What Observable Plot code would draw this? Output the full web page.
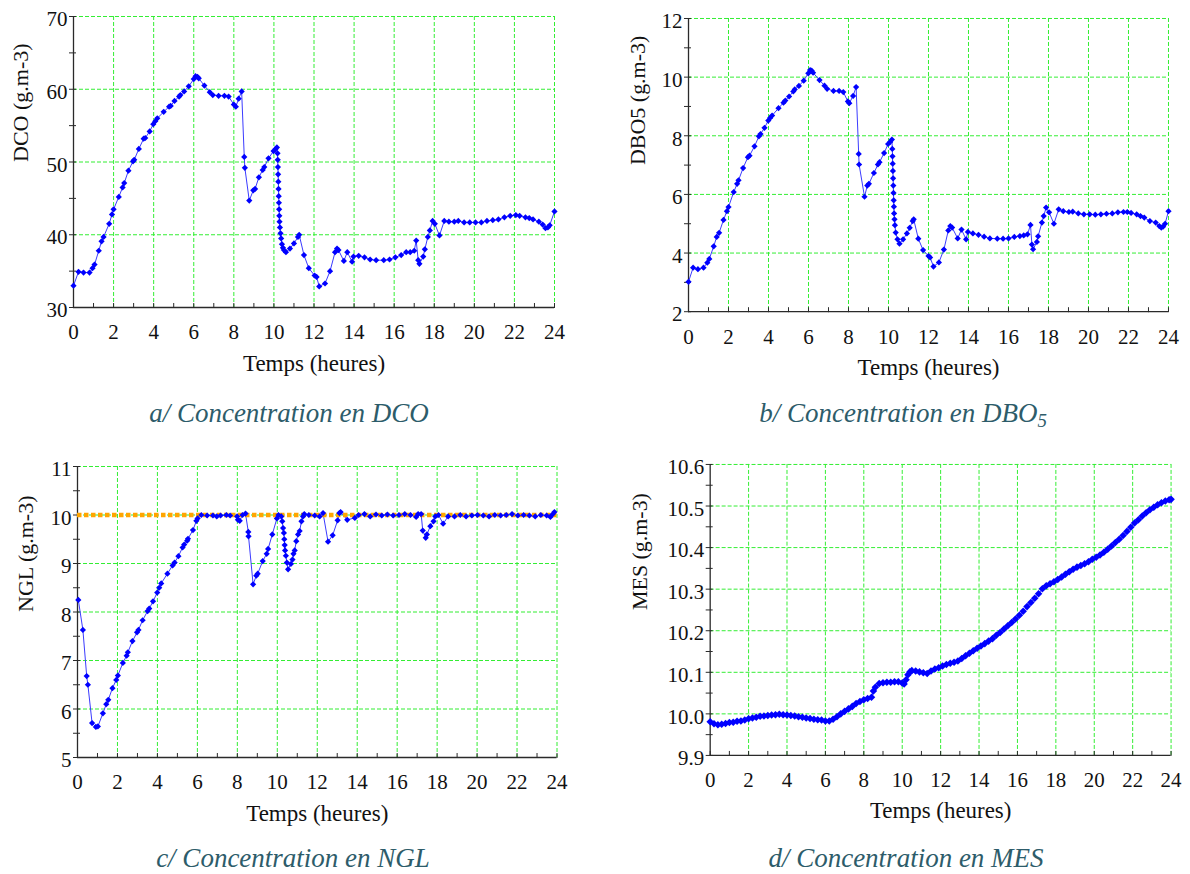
<!DOCTYPE html>
<html><head><meta charset="utf-8">
<script src="https://cdn.jsdelivr.net/npm/d3@7"></script>
<script src="https://cdn.jsdelivr.net/npm/@observablehq/plot@0.6"></script>
<style>
body{margin:0;background:#fff;width:1190px;height:874px;position:relative;overflow:hidden;font-family:'Liberation Serif','Times New Roman',serif}
.panel{position:absolute}
.panel svg, .panel svg text{font-family:'Liberation Serif','Times New Roman',serif !important}
.cap{position:absolute;font-style:italic;font-size:27px;color:#2d5c6a;white-space:nowrap;transform:translate(-50%,-50%);font-family:'Liberation Serif','Times New Roman',serif;line-height:1.1}
.cap sub{font-size:0.7em;vertical-align:-0.25em;line-height:0}
</style></head><body>
<script>
// ---- shared tick labels ----
const hourMajor = [0,2,4,6,8,10,12,14,16,18,20,22,24];
const hourMinor = d3.range(0, 25, 1);
const xLabel = "Temps (heures)";

// ---- a/ DCO ----
const dcoHours = [0,0.25,0.5,0.8,0.95,1.05,1.26,1.4,1.5,1.78,1.92,2,2.26,2.45,2.53,2.74,2.97,3.03,3.26,3.5,3.58,3.8,3.98,4.08,4.18,4.5,4.77,4.85,5.04,5.27,5.33,5.52,5.75,6,6.09,6.19,6.25,6.53,6.8,6.95,7.24,7.53,7.74,8,8.1,8.24,8.39,8.52,8.55,8.77,8.97,9.06,9.25,9.44,9.52,9.73,9.98,10.08,10.15,10.18,10.19,10.2,10.21,10.22,10.23,10.24,10.25,10.26,10.27,10.28,10.3,10.33,10.36,10.4,10.45,10.5,10.6,10.8,11,11.2,11.26,11.5,11.74,12.03,12.13,12.26,12.55,12.8,13.05,13.15,13.22,13.49,13.66,13.9,13.97,14.23,14.52,14.8,15.1,15.48,15.77,16.06,16.35,16.6,16.8,17,17.1,17.2,17.26,17.45,17.53,17.68,17.78,17.92,18.03,18.26,18.5,18.73,19,19.2,19.49,19.77,20.06,20.35,20.63,20.92,21.2,21.5,21.79,22.07,22.26,22.55,22.74,22.93,23.22,23.41,23.55,23.67,23.76,24];
const dcoValues = [33,34.9,34.8,34.8,35.4,35.9,37.8,39.1,39.7,41.5,42.8,43.5,45.2,46.5,47.1,48.8,50.1,50.3,51.8,53.2,53.3,54.2,55.2,55.6,56,56.9,57.6,57.7,58.4,59,59.2,59.7,60.4,61.4,61.8,61.7,61.5,60.5,59.6,59.2,59.1,59.1,59,57.9,57.6,58.7,59.7,50.7,49.2,44.7,46.1,46.3,47.9,48.9,49.3,50.5,51.5,51.8,52,51.2,50.3,49.3,48.3,47.3,46.3,45.3,44.4,43.5,42.6,41.8,41,40.2,39.5,38.7,38.2,37.9,37.6,38.1,38.8,39.7,40,37.2,35.4,34.4,34.2,32.9,33.3,35,37.6,38.1,37.9,36.4,37.6,36.3,37,37.1,36.9,36.6,36.5,36.5,36.6,36.9,37.2,37.6,37.6,37.8,39.2,36.5,36,37,38,39.7,40.6,41.9,41.5,39.9,41.9,41.8,41.8,41.9,41.7,41.7,41.7,41.7,41.9,42,42.1,42.4,42.6,42.7,42.6,42.4,42.3,42.1,41.8,41.4,40.9,41,41.3,43.2];
const dcoMajor = [30,40,50,60,70];
const dcoMinor = [30,35,40,45,50,55,60,65,70];

// ---- b/ DBO5 ----
const dboHours = [0,0.23,0.47,0.75,0.94,1.04,1.26,1.41,1.53,1.75,1.92,2,2.26,2.43,2.5,2.73,2.97,3.05,3.3,3.52,3.6,3.8,3.99,4.08,4.18,4.5,4.75,4.84,5.03,5.24,5.31,5.52,5.76,5.99,6.08,6.16,6.23,6.55,6.8,6.93,7.25,7.53,7.74,7.97,8.04,8.23,8.38,8.51,8.53,8.8,8.94,9.02,9.27,9.47,9.55,9.78,9.98,10.08,10.17,10.19,10.2,10.21,10.22,10.23,10.24,10.25,10.26,10.27,10.28,10.3,10.32,10.36,10.45,10.55,10.73,10.92,11.06,11.21,11.26,11.49,11.73,12,12.08,12.25,12.52,12.77,12.99,13.09,13.18,13.46,13.65,13.88,13.97,14.22,14.5,14.78,15.07,15.44,15.73,16,16.29,16.57,16.76,16.95,17.1,17.17,17.23,17.42,17.48,17.67,17.76,17.88,18.03,18.27,18.51,18.74,19.02,19.21,19.49,19.77,20.06,20.34,20.62,20.9,21.19,21.47,21.75,21.94,22.13,22.41,22.6,22.79,23.07,23.36,23.54,23.64,23.73,23.83,24];
const dboValues = [3.02,3.5,3.45,3.5,3.67,3.8,4.23,4.55,4.69,5.13,5.43,5.57,6.08,6.36,6.48,6.9,7.27,7.32,7.64,7.98,8.06,8.27,8.52,8.61,8.69,8.94,9.13,9.2,9.34,9.51,9.58,9.7,9.88,10.13,10.24,10.22,10.15,9.9,9.71,9.6,9.53,9.53,9.49,9.17,9.11,9.36,9.66,7.38,7.02,5.92,6.3,6.36,6.73,7.02,7.1,7.41,7.72,7.79,7.87,7.55,7.3,7.05,6.8,6.55,6.3,6.05,5.8,5.58,5.35,5.15,4.95,4.7,4.47,4.32,4.47,4.67,4.86,5.09,5.15,4.49,4.1,3.9,3.85,3.54,3.68,4.12,4.77,4.92,4.87,4.5,4.8,4.47,4.72,4.67,4.62,4.56,4.5,4.49,4.49,4.5,4.55,4.58,4.6,4.64,4.96,4.29,4.13,4.38,4.57,5.04,5.26,5.55,5.39,5,5.49,5.43,5.4,5.41,5.35,5.32,5.32,5.31,5.32,5.34,5.35,5.39,5.4,5.4,5.37,5.32,5.26,5.21,5.09,5.04,4.92,4.87,4.9,5,5.43];
const dboMajor = [2,4,6,8,10,12];
const dboMinor = [2,3,4,5,6,7,8,9,10,11,12];

// ---- c/ NGL ----
const nglHours = [0.04,0.27,0.46,0.52,0.73,0.92,1.02,1.27,1.44,1.54,1.75,1.94,2.02,2.27,2.46,2.52,2.75,2.98,3.05,3.26,3.51,3.59,3.78,3.99,4.09,4.19,4.5,4.76,4.86,5.05,5.26,5.34,5.49,5.53,5.78,5.95,6.01,6.2,6.49,6.78,6.97,7.16,7.45,7.64,7.99,8.03,8.12,8.26,8.41,8.55,8.56,8.79,8.95,9.02,9.27,9.47,9.54,9.75,9.98,10.06,10.2,10.25,10.29,10.33,10.35,10.37,10.39,10.43,10.48,10.54,10.68,10.76,10.81,10.87,10.95,11.04,11.12,11.21,11.29,11.35,11.58,11.87,12.12,12.29,12.54,12.77,13.02,13.11,13.17,13.5,13.88,14.07,14.36,14.65,14.94,15.23,15.51,15.8,16.09,16.38,16.67,16.95,17.05,17.2,17.28,17.43,17.49,17.66,17.82,17.91,18.07,18.3,18.55,18.87,19.16,19.45,19.74,20.02,20.31,20.6,20.89,21.18,21.46,21.75,22.04,22.33,22.62,22.91,23.19,23.48,23.67,23.77,23.87];
const nglValues = [8.25,7.63,6.68,6.5,5.71,5.63,5.64,5.91,6.1,6.19,6.43,6.6,6.69,6.95,7.1,7.17,7.4,7.58,7.63,7.83,8.02,8.07,8.22,8.4,8.5,8.59,8.79,8.96,9.02,9.15,9.33,9.39,9.47,9.51,9.69,9.88,9.93,10,9.99,9.99,9.97,9.99,10,9.99,9.97,9.9,9.88,10,10.03,9.65,9.56,8.57,8.75,8.79,9.05,9.2,9.3,9.6,9.93,10,9.97,9.87,9.73,9.63,9.5,9.38,9.27,9.16,9.02,8.88,8.99,9.08,9.2,9.27,9.46,9.6,9.67,9.87,9.97,10.02,10,9.99,9.97,10.04,9.45,9.58,9.89,10.04,10.06,9.9,9.94,10,10.02,9.97,10.01,9.99,10.01,9.99,10,10.02,10,9.96,10.02,10.02,9.68,9.53,9.6,9.77,9.87,9.97,10,9.82,9.97,9.97,10,9.97,9.99,10,9.99,9.97,10,9.99,10,10.02,9.99,10,9.99,9.97,10,9.99,9.96,10.01,10.06];
const nglMajor = [5,6,7,8,9,10,11];
const nglMinor = [5,5.5,6,6.5,7,7.5,8,8.5,9,9.5,10,10.5,11];
const nglLimit = [10];

// ---- d/ MES ----
const mesHours = [0,0.2,0.4,0.6,0.8,1,1.2,1.4,1.6,1.8,2,2.2,2.4,2.6,2.8,3,3.2,3.4,3.6,3.8,4,4.2,4.4,4.6,4.8,5,5.2,5.4,5.6,5.8,6,6.2,6.4,6.6,6.8,7,7.2,7.4,7.6,7.8,8,8.2,8.4,8.5,8.6,8.8,9,9.2,9.4,9.6,9.8,10,10.1,10.2,10.3,10.4,10.5,10.7,10.9,11.1,11.3,11.5,11.7,11.9,12.1,12.3,12.5,12.7,12.9,13.1,13.3,13.5,13.7,13.9,14.1,14.3,14.5,14.7,14.9,15.1,15.3,15.5,15.7,15.9,16.1,16.3,16.5,16.7,16.9,17.1,17.3,17.5,17.7,17.9,18.1,18.3,18.5,18.7,18.9,19.1,19.3,19.5,19.7,19.9,20.1,20.3,20.5,20.7,20.9,21.1,21.3,21.5,21.7,21.9,22.1,22.3,22.5,22.7,22.9,23.1,23.3,23.5,23.7,23.9,24];
const mesValues = [9.981,9.976,9.974,9.975,9.977,9.979,9.98,9.982,9.983,9.985,9.988,9.99,9.992,9.994,9.995,9.996,9.997,9.998,9.999,9.998,9.997,9.996,9.995,9.993,9.992,9.99,9.989,9.987,9.986,9.985,9.983,9.983,9.987,9.993,10,10.006,10.012,10.018,10.025,10.03,10.034,10.037,10.04,10.055,10.064,10.073,10.075,10.076,10.076,10.077,10.077,10.074,10.072,10.082,10.094,10.101,10.104,10.103,10.101,10.099,10.097,10.103,10.108,10.111,10.115,10.119,10.122,10.124,10.127,10.133,10.14,10.146,10.152,10.158,10.163,10.169,10.175,10.181,10.189,10.196,10.204,10.212,10.22,10.228,10.237,10.247,10.258,10.268,10.278,10.289,10.301,10.308,10.313,10.318,10.323,10.329,10.336,10.342,10.348,10.353,10.357,10.361,10.366,10.372,10.377,10.382,10.389,10.396,10.404,10.412,10.42,10.429,10.439,10.449,10.459,10.467,10.476,10.484,10.491,10.497,10.503,10.508,10.512,10.515,10.516];
const mesMajor = [9.9,10,10.1,10.2,10.3,10.4,10.5,10.6];
const mesMinor = [9.9,9.95,10,10.05,10.1,10.15,10.2,10.25,10.3,10.35,10.4,10.45,10.5,10.55,10.6];

const GREEN = "#33ee33", AXIS = "#2a2a2a", LINE = "#3b3bff", DOT = "#0000ff";
const FONT = "'Liberation Serif', 'Times New Roman', serif";

function makePanel(cfg) {
  const ML = 90, MT = 12, MR = 20, MB = 80;
  const {t, v, L, R, T, B, yDomain, yMajor, yMinor, yLabel, yLabelDx, yFormat, limit, dotR, caption, capX, capY} = cfg;
  const data = t.map((d, i) => ({t: d, v: v[i]}));
  const width = ML + (R - L) + MR, height = MT + (B - T) + MB;
  const marks = [
    Plot.gridX(hourMajor.filter(d => d > 0), {stroke: GREEN, strokeOpacity: 1, strokeDasharray: "4,2"}),
    Plot.gridY(yMajor.filter(d => d > yDomain[0]), {stroke: GREEN, strokeOpacity: 1, strokeDasharray: "4,2"}),
    Plot.ruleX([0], {stroke: AXIS, strokeWidth: 1.3}),
    Plot.ruleY([yDomain[0]], {stroke: AXIS, strokeWidth: 1.3}),
    Plot.axisX(hourMinor, {tickSize: 5, dy: -4, tickFormat: () => "", label: null, stroke: AXIS}),
    Plot.axisX(hourMajor, {tickSize: 0, tickPadding: 17, tickFormat: d => String(d), label: null,
      fontSize: 21, fontFamily: FONT, fill: "#111"}),
    Plot.axisY(yMinor, {tickSize: 7, dx: 3, tickFormat: () => "", label: null, stroke: AXIS}),
    Plot.axisY(yMajor, {tickSize: 0, tickPadding: 6, dy: 3, tickFormat: yFormat, label: null,
      fontSize: 21, fontFamily: FONT, fill: "#111"}),
    Plot.line(data, {x: "t", y: "v", stroke: LINE, strokeWidth: 1})
  ];
  if (limit) marks.push(Plot.ruleY(limit, {stroke: "#ffa500", strokeWidth: 4.5, strokeDasharray: "4.5,2.5"}));
  marks.push(
    Plot.dot(data, {x: "t", y: "v", symbol: "diamond2", r: dotR, fill: DOT, stroke: "none"}),
    Plot.text([xLabel], {frameAnchor: "bottom", dy: 63, fontSize: 23, fontFamily: FONT, text: d => d, fill: "#111"}),
    Plot.text([yLabel], {frameAnchor: "left", dx: yLabelDx, rotate: -90, fontSize: 22, fontFamily: FONT, text: d => d, fill: "#111"})
  );
  const svg = Plot.plot({
    width, height,
    marginLeft: ML, marginTop: MT, marginRight: MR, marginBottom: MB,
    style: {fontFamily: FONT, fontSize: "21px", color: "#111", background: "transparent"},
    x: {domain: [0, 24]},
    y: {domain: yDomain},
    marks
  });
  const div = document.createElement("div");
  div.className = "panel";
  div.style.left = (L - ML) + "px";
  div.style.top = (T - MT) + "px";
  div.appendChild(svg);
  document.body.appendChild(div);
  const cap = document.createElement("div");
  cap.className = "cap";
  cap.innerHTML = caption;
  cap.style.left = capX + "px";
  cap.style.top = capY + "px";
  document.body.appendChild(cap);
}

makePanel({t: dcoHours, v: dcoValues, L: 73, R: 554, T: 16, B: 307, yDomain: [30, 70], yMajor: dcoMajor, yMinor: dcoMinor,
  yLabel: "DCO (g.m-3)", yLabelDx: -53, yFormat: d => String(d), dotR: 2.8, caption: "a/ Concentration en DCO", capX: 289, capY: 414});
makePanel({t: dboHours, v: dboValues, L: 688, R: 1168, T: 17.5, B: 310.7, yDomain: [2, 12], yMajor: dboMajor, yMinor: dboMinor,
  yLabel: "DBO5 (g.m-3)", yLabelDx: -51, yFormat: d => String(d), dotR: 2.8, caption: "b/ Concentration en DBO<sub>5</sub>", capX: 903, capY: 414});
makePanel({t: nglHours, v: nglValues, L: 77, R: 556.5, T: 466, B: 757, yDomain: [5, 11], yMajor: nglMajor, yMinor: nglMinor,
  yLabel: "NGL (g.m-3)", yLabelDx: -52, yFormat: d => String(d), limit: nglLimit, dotR: 2.8, caption: "c/ Concentration en NGL", capX: 293, capY: 859});
makePanel({t: mesHours, v: mesValues, L: 709.5, R: 1172, T: 464, B: 756, yDomain: [9.9, 10.6], yMajor: mesMajor, yMinor: mesMinor,
  yLabel: "MES (g.m-3)", yLabelDx: -70, yFormat: d => d.toFixed(1), dotR: 3.4, caption: "d/ Concentration en MES", capX: 906, capY: 859});
</script>
</body></html>
